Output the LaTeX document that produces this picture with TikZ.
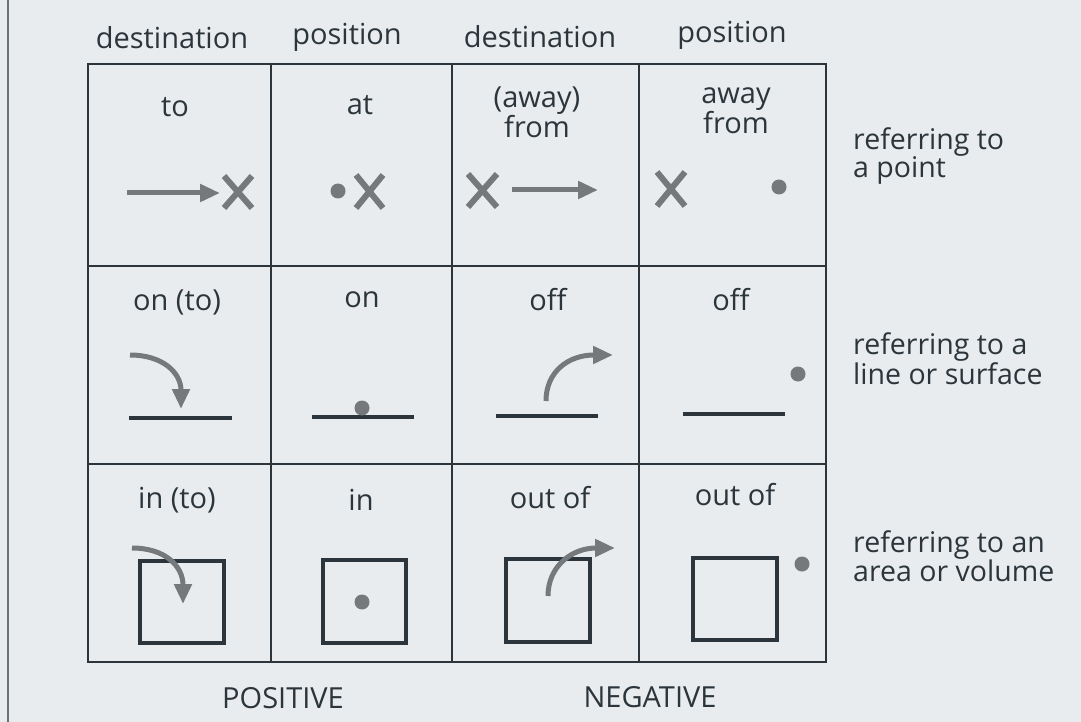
\documentclass[tikz,border=0pt]{standalone}
\usepackage{fontspec}
\setmainfont{Open Sans}
\usetikzlibrary{arrows.meta}
\definecolor{ink}{HTML}{2B353B}
\definecolor{sym}{HTML}{76797C}
\definecolor{paper}{HTML}{E8ECEE}
\tikzset{
  txt/.style={text=ink, font=\fontsize{29}{29}\selectfont, inner sep=0pt, align=center},
  side/.style={text=ink, font=\fontsize{28.5}{27}\selectfont, inner sep=0pt, align=left, anchor=west},
  thin/.style={draw=ink, line width=1.6pt},
  thick/.style={draw=ink, line width=2.4pt},
  surf/.style={draw=ink, line width=4pt},
  garrow/.style={draw=sym, line width=5pt, -{Triangle[length=20pt,width=17pt]}},
  cross/.style={draw=sym, line width=6pt},
  gdot/.style={fill=sym, draw=none},
}
\begin{document}
\begin{tikzpicture}[x=1pt,y=-1pt]
\useasboundingbox (0,0) rectangle (1081,722);
\fill[paper] (0,0) rectangle (1081,722);
\draw[draw=ink!70, line width=1.5pt] (8,0) -- (8,722);
% grid
\draw[thin] (271,64) -- (271,662) (639,64) -- (639,662) (88,266) -- (826,266) (88,464) -- (826,464);
\draw[thick] (88,64) rectangle (826,662);
\draw[thick] (452,64) -- (452,662);
% headers
\node[txt] (h1) at (172,38) {destination};
\node[txt] (h2) at (347,37) {position};
\node[txt] (h3) at (540,37) {destination};
\node[txt] (h4) at (732,35) {position};
% row 1
\node[txt] (t11) at (175,107) {to};
\node[txt] (t12) at (360,105) {at};
\node[txt] (t13) at (537,112) {(away)\\from};
\node[txt] (t14) at (736,111) {away\\from};
\draw[garrow] (127,193) -- (220,193);
\draw[cross] (224,176) -- (252,208) (252,176) -- (224,208);
\fill[gdot] (338,191) circle (7.5);
\draw[cross] (356,175) -- (383,208) (383,175) -- (356,208);
\draw[cross] (468,174) -- (497,207) (497,174) -- (468,207);
\draw[garrow] (512,190) -- (598,190);
\draw[cross] (657,172) -- (685,206) (685,172) -- (657,206);
\fill[gdot] (779,187) circle (7.5);
% row 2
\node[txt] (t21) at (177,302) {on (to)};
\node[txt] (t22) at (362,300) {on};
\node[txt] (t23) at (548,300) {off};
\node[txt] (t24) at (731,300) {off};
\draw[garrow] (130,355) .. controls (163,355) and (181,373) .. (181,409);
\draw[surf] (129,418) -- (232,418);
\draw[surf] (312,417) -- (414,417);
\fill[gdot] (362,408) circle (7.5);
\draw[garrow] (546,401) .. controls (546,372) and (568,355) .. (613,355);
\draw[surf] (496,416) -- (598,416);
\draw[surf] (683,414) -- (785,414);
\fill[gdot] (798,374) circle (7.5);
% row 3
\node[txt] (t31) at (177,500) {in (to)};
\node[txt] (t32) at (361,500) {in};
\node[txt] (t33) at (550,498) {out of};
\node[txt] (t34) at (735,495) {out of};
\draw[surf] (140,561) rectangle (224,643);
\draw[garrow] (132,548) .. controls (165,548) and (183,566) .. (183,604);
\draw[surf] (323,560) rectangle (406,643);
\fill[gdot] (362,602) circle (7.5);
\draw[surf] (506,559) rectangle (590,642);
\draw[garrow] (548,596) .. controls (548,566) and (572,548) .. (615,548);
\draw[surf] (693,558) rectangle (777,640);
\fill[gdot] (802,564) circle (7.5);
% right labels
\node[side] (r1) at (853,156) {referring to\\a point};
\node[side] (r2) at (853,359) {referring to a\\line or surface};
\node[side] (r3) at (853,556) {referring to an\\area or volume};
% bottom
\node[txt] (pos) at (283,698) {POSITIVE};
\node[txt] (neg) at (650,697) {NEGATIVE};
\end{tikzpicture}
\end{document}
